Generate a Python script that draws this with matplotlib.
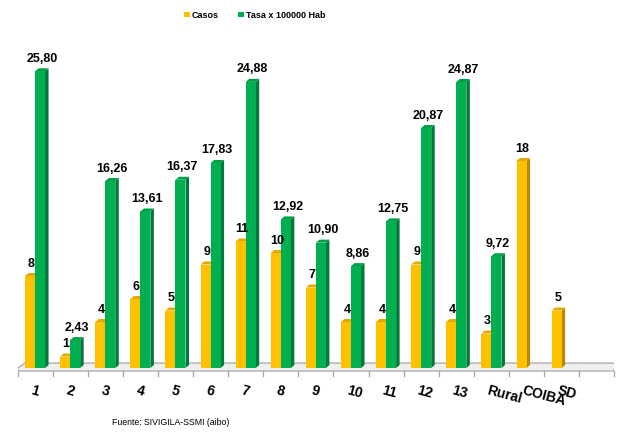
import numpy as np
import matplotlib
matplotlib.use("Agg")
import matplotlib.pyplot as plt
from matplotlib.patches import Polygon

plt.rcParams['font.family'] = ['Liberation Sans', 'DejaVu Sans']

categorias = ['1', '2', '3', '4', '5', '6', '7', '8', '9', '10', '11', '12', '13',
              'Rural', 'COIBA', 'SD']
casos = [8, 1, 4, 6, 5, 9, 11, 10, 7, 4, 4, 9, 4, 3, 18, 5]
tasa = [25.80, 2.43, 16.26, 13.61, 16.37, 17.83, 24.88, 12.92, 10.90, 8.86,
        12.75, 20.87, 24.87, 9.72, None, None]
casos_txt = [str(v) for v in casos]
tasa_txt = ['' if v is None else f'{v:.2f}'.replace('.', ',') for v in tasa]

n_slots = 17  # floor has one empty slot at the end
w = 0.285
dx, dy = 0.10, 0.26

fig = plt.figure(figsize=(6.21, 4.32), dpi=100)
ax = fig.add_axes([0.0282, 0.1215, 0.961, 0.812])
ax.set_xlim(-0.5, n_slots - 0.5)
ax.set_ylim(-1, 29.5)
ax.axis('off')

# floor
floor = Polygon([(-0.6, -0.26), (16.47, -0.26), (16.64, 0.43), (-0.29, 0.43)],
                closed=True, facecolor='#f0f0f0', edgecolor='#a6a6a6', lw=0.9,
                zorder=1)
ax.add_patch(floor)
for k in range(n_slots + 1):
    ax.plot([k - 0.5, k - 0.5], [-0.26, -0.7], color='#a6a6a6', lw=0.9,
            zorder=1, clip_on=False)


def bar3d(x0, h, top, side, z):
    x1 = x0 + w
    ax.add_patch(Polygon([(x1, 0), (x1 + dx, dy), (x1 + dx, h + dy), (x1, h)],
                         closed=True, facecolor=side, edgecolor='none', zorder=z))
    ax.add_patch(Polygon([(x0, h), (x1, h), (x1 + dx, h + dy), (x0 + dx, h + dy)],
                         closed=True, facecolor=top, edgecolor='none', zorder=z))


x = np.arange(len(categorias))
b1 = ax.bar(x - w / 2, casos, w, color='#FFC000', zorder=3, label='Casos')
for i, v in enumerate(casos):
    bar3d(x[i] - w, v, '#E6A800', '#B98A00', 2.9)
    ax.annotate(casos_txt[i], (x[i] - w / 2 + dx / 2, v + dy), xytext=(-0.5, 2.5),
                textcoords='offset points', ha='center', va='bottom',
                fontsize=9, fontweight='bold', zorder=6)

tx = [i for i, v in enumerate(tasa) if v is not None]
tv = [tasa[i] for i in tx]
b2 = ax.bar(np.array(tx) + w / 2, tv, w, color='#00B050', zorder=5,
            label='Tasa x 100000 Hab')
for i, v in zip(tx, tv):
    bar3d(x[i], v, '#00A048', '#007A38', 4.9)
    ax.annotate(tasa_txt[i], (x[i] + w / 2 + dx / 2, v + dy), xytext=(0, 2.5),
                textcoords='offset points', ha='center', va='bottom',
                fontsize=9, fontweight='bold', zorder=6)

for i, c in enumerate(categorias):
    ax.text(x[i] - 0.06, -1.3, c, rotation=-15, rotation_mode='anchor',
            ha='left', va='top', fontsize=10, fontweight='bold', clip_on=False)

fig.legend(handles=[b1, b2], loc='center', bbox_to_anchor=(0.41, 0.965), ncol=2,
           frameon=False, prop={'weight': 'bold', 'size': 6.5},
           handlelength=0.6, handleheight=0.6, handletextpad=0.2,
           columnspacing=2.2)

fig.text(0.275, 0.023, 'Fuente: SIVIGILA-SSMI (aibo)', ha='center', va='center',
         fontsize=6.3)

fig.savefig('out.png', dpi=100)
